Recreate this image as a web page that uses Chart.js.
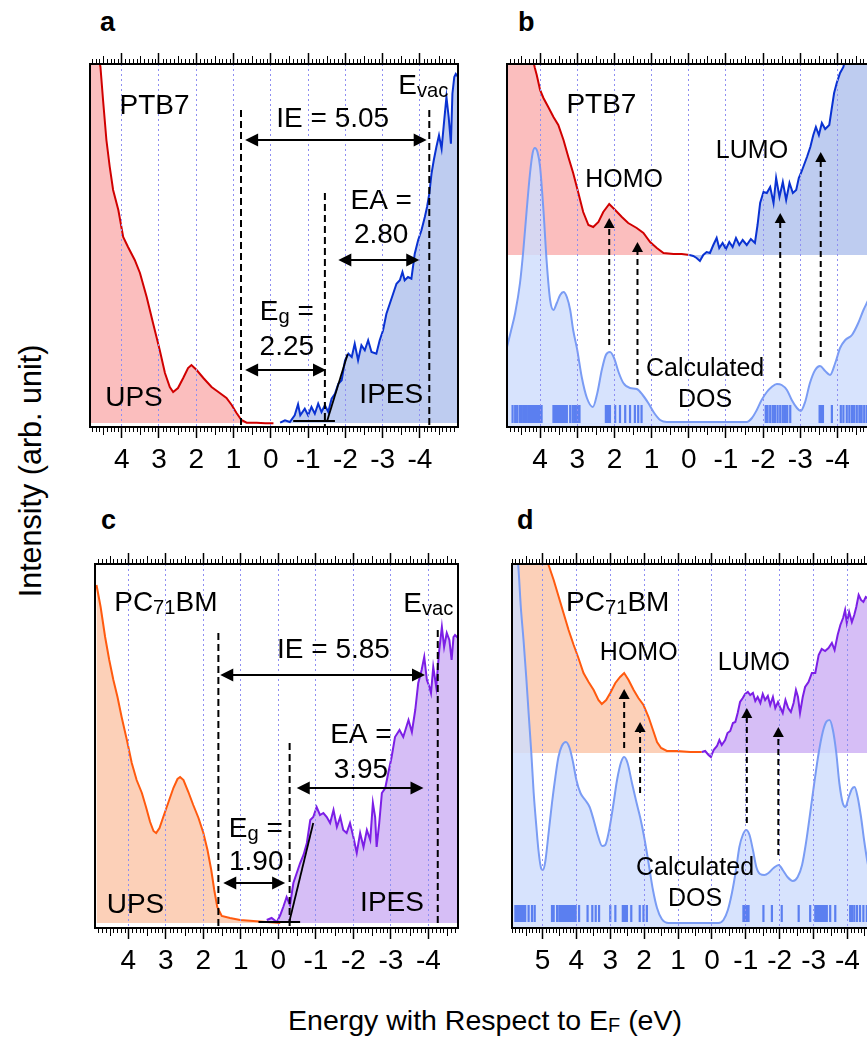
<!DOCTYPE html>
<html>
<head>
<meta charset="utf-8">
<title>PTB7 and PC71BM UPS / IPES spectra</title>
<script src="https://cdn.jsdelivr.net/npm/chart.js@4.4.1/dist/chart.umd.min.js"></script>
<style>
  html, body { margin: 0; padding: 0; background: #fff; width: 867px; height: 1044px; overflow: hidden; }
  body { position: relative; font-family: "Liberation Sans", Arial, Helvetica, sans-serif; color: #000; }
  .panel { position: absolute; }
  .letter { position: absolute; font-weight: bold; font-size: 27px; line-height: 1; }
  #ytitle { position: absolute; left: 30px; top: 471px; transform: translate(-50%, -50%) rotate(-90deg); white-space: nowrap; font-size: 30.5px; line-height: 1; }
  #xtitle { position: absolute; left: 485px; top: 1020px; transform: translate(-50%, -50%); white-space: nowrap; font-size: 28.5px; line-height: 1; }
  #xtitle sub { font-size: 0.7em; vertical-align: baseline; position: relative; top: 0.1em; }
</style>
</head>
<body>
<div class="letter" style="left:100px;top:9px">a</div>
<div class="letter" style="left:518px;top:9px">b</div>
<div class="letter" style="left:101px;top:507px">c</div>
<div class="letter" style="left:517px;top:507px">d</div>
<div id="ytitle">Intensity (arb. unit)</div>
<div id="xtitle">Energy with Respect to E<sub>F</sub> (eV)</div>

<script>
// ---------- tick labels (eV) ----------
const ticksABC = [4, 3, 2, 1, 0, -1, -2, -3, -4];
const ticksD = [5, 4, 3, 2, 1, 0, -1, -2, -3, -4];

// ---------- panel a : PTB7 UPS / IPES ----------
const aUpsE = [4.85, 4.57, 4.50, 4.41, 4.32, 4.23, 4.09, 3.96, 3.83, 3.65, 3.51, 3.33, 3.16, 2.98, 2.84, 2.71, 2.62, 2.49, 2.35, 2.22, 2.13, 1.99, 1.81, 1.59, 1.37, 1.19, 1.05, 0.92, 0.79, 0.65, 0.38, 0.15, -0.07];
const aUpsI = [420, 360, 327, 287, 260, 237, 217, 190, 180, 167, 154, 130, 104, 77, 54, 40, 35, 39, 49, 59, 62, 57, 49, 40, 34, 29, 22, 14, 7, 4.3, 4.3, 3.7, 3.7];
const aIpesE = [-0.25, -0.38, -0.51, -0.64, -0.73, -0.79, -0.91, -1.00, -1.09, -1.18, -1.27, -1.36, -1.45, -1.54, -1.63, -1.72, -1.81, -1.90, -1.99, -2.08, -2.17, -2.25, -2.34, -2.43, -2.52, -2.61, -2.70, -2.83, -2.92, -3.01, -3.10, -3.19, -3.28, -3.37, -3.46, -3.53, -3.59, -3.68, -3.77, -3.86, -3.95, -4.04, -4.13, -4.19, -4.25, -4.31, -4.37, -4.44, -4.51, -4.58, -4.65, -4.71, -4.77, -4.83, -4.87, -4.92, -4.96, -5.02];
const aIpesI = [4.3, 6.7, 5, 11.7, 22.7, 11.7, 18.3, 11.7, 20, 13.3, 23.3, 15, 21.7, 15, 28.3, 33.3, 43.3, 46.7, 66.7, 73.3, 70, 83.3, 66.7, 81.7, 76.7, 86.7, 75, 73.3, 86.7, 96.7, 113.3, 123.3, 133.3, 143.3, 146.7, 155, 146.7, 150, 148.3, 173.3, 186.7, 196.7, 210, 220, 233.3, 253.3, 266.7, 280, 291.7, 278.3, 306.7, 330, 310, 283.3, 333.3, 350, 353, 350];

// ---------- panel b : PTB7 spectra with calculated DOS ----------
const bUpsE = [4.89, 4.40, 4.14, 4.09, 4.00, 3.91, 3.78, 3.64, 3.51, 3.37, 3.24, 3.11, 2.97, 2.84, 2.70, 2.57, 2.43, 2.30, 2.14, 1.98, 1.80, 1.63, 1.40, 1.22, 1.04, 0.86, 0.68, 0.41, 0.19, -0.02];
const bUpsI = [460, 400, 359, 352, 337, 329, 320, 310, 302, 287, 270, 254, 234, 215, 202, 200, 205, 215, 223, 217, 210, 204, 199, 194, 185, 179, 174, 173, 173, 172];
const bIpesE = [-0.02, -0.12, -0.21, -0.30, -0.39, -0.48, -0.57, -0.66, -0.75, -0.82, -0.91, -1.00, -1.09, -1.18, -1.27, -1.36, -1.45, -1.56, -1.67, -1.78, -1.85, -1.92, -2.01, -2.10, -2.19, -2.28, -2.35, -2.44, -2.53, -2.62, -2.71, -2.80, -2.89, -2.96, -3.03, -3.10, -3.18, -3.27, -3.35, -3.42, -3.50, -3.58, -3.67, -3.78, -3.84, -3.91, -3.98, -4.07, -4.16, -4.30, -4.60, -5.01];
const bIpesI = [172, 171, 169, 166, 172, 175, 174, 182, 189, 179, 184, 178, 185, 180, 189, 182, 187, 182, 188, 184, 202, 224, 235, 234, 240, 224, 249, 230, 245, 227, 244, 234, 237, 249, 255, 262, 270, 280, 292, 300, 292, 304, 298, 302, 317, 334, 344, 354, 360, 385, 420, 460];
const bDosE = [4.89, 4.79, 4.67, 4.54, 4.45, 4.36, 4.27, 4.20, 4.14, 4.07, 4.00, 3.91, 3.82, 3.73, 3.64, 3.55, 3.46, 3.37, 3.28, 3.19, 3.11, 3.00, 2.88, 2.74, 2.58, 2.46, 2.34, 2.23, 2.12, 2.01, 1.89, 1.76, 1.58, 1.40, 1.24, 1.09, 0.93, 0.77, 0.59, -1.56, -1.70, -1.83, -1.96, -2.10, -2.23, -2.37, -2.50, -2.64, -2.77, -2.91, -3.01, -3.13, -3.26, -3.40, -3.53, -3.67, -3.80, -3.94, -4.07, -4.21, -4.39, -4.56, -4.70, -4.79, -5.01];
const bDosI = [80, 95, 114, 144, 177, 217, 254, 274, 279, 275, 260, 217, 164, 127, 117, 124, 132, 135, 130, 117, 97, 77, 50, 29, 20, 34, 57, 72, 75, 69, 55, 44, 39, 38, 32, 24, 14, 7, 5, 5, 9, 17, 27, 35, 40, 43, 42, 37, 27, 19, 16, 25, 44, 57, 61, 56, 52, 64, 79, 87, 92, 104, 117, 124, 140];
const bStickE = [4.74, 4.67, 4.61, 4.54, 4.49, 4.43, 4.38, 4.32, 4.27, 4.23, 4.18, 4.14, 4.09, 4.05, 4.00, 3.96, 3.64, 3.60, 3.55, 3.51, 3.46, 3.42, 3.37, 3.33, 3.28, 3.19, 3.12, 3.06, 3.00, 2.94, 2.23, 2.19, 2.15, 2.12, 1.98, 1.85, 1.71, 1.58, 1.45, 1.36, 1.27, -2.07, -2.12, -2.19, -2.26, -2.32, -2.39, -2.46, -2.53, -2.59, -2.65, -2.73, -3.52, -3.56, -3.61, -3.85, -4.09, -4.16, -4.25, -4.32, -4.39, -4.45, -4.52, -4.59, -4.65, -4.72, -4.79];

// ---------- panel c : PC71BM UPS / IPES ----------
const cUpsE = [4.85, 4.74, 4.62, 4.51, 4.40, 4.29, 4.18, 4.04, 3.91, 3.78, 3.64, 3.53, 3.42, 3.33, 3.26, 3.17, 3.07, 2.93, 2.80, 2.69, 2.62, 2.53, 2.40, 2.27, 2.13, 2.00, 1.89, 1.79, 1.71, 1.63, 1.51, 1.29, 1.02, 0.67, 0.31, -0.05];
const cUpsI = [343, 321, 291, 268, 248, 231, 211, 188, 165, 148, 135, 121, 106, 97, 95, 100, 111, 126, 140, 149, 151, 148, 136, 123, 110, 95, 78, 58, 38, 21, 12, 10, 8, 7, 6, 5];
const cIpesE = [0.31, 0.18, 0.04, -0.05, -0.13, -0.22, -0.31, -0.40, -0.49, -0.58, -0.67, -0.76, -0.85, -0.93, -1.02, -1.11, -1.20, -1.29, -1.38, -1.47, -1.56, -1.65, -1.73, -1.82, -1.91, -2.00, -2.09, -2.18, -2.27, -2.36, -2.45, -2.52, -2.58, -2.62, -2.69, -2.76, -2.85, -2.93, -3.02, -3.11, -3.23, -3.33, -3.47, -3.56, -3.65, -3.73, -3.82, -3.89, -3.96, -4.03, -4.07, -4.13, -4.21, -4.29, -4.36, -4.42, -4.49, -4.56, -4.62, -4.67, -4.71, -4.79];
const cIpesI = [8, 10, 6, 13, 21, 31, 23, 45, 55, 65, 73, 85, 108, 111, 121, 113, 115, 111, 105, 118, 101, 111, 98, 95, 105, 91, 75, 95, 81, 98, 88, 125, 111, 81, 105, 135, 140, 155, 171, 191, 198, 191, 208, 196, 218, 245, 258, 271, 248, 241, 235, 261, 241, 278, 301, 281, 295, 288, 268, 291, 293, 290];

// ---------- panel d : PC71BM spectra with calculated DOS ----------
const dUpsE = [5.90, 5.20, 4.79, 4.67, 4.52, 4.38, 4.23, 4.08, 3.94, 3.79, 3.64, 3.49, 3.35, 3.25, 3.12, 3.00, 2.85, 2.71, 2.59, 2.46, 2.31, 2.17, 2.02, 1.87, 1.74, 1.62, 1.50, 1.33, 1.03, 0.64, 0.30];
const dUpsI = [440, 400, 360, 348, 331, 315, 298, 283, 270, 255, 246, 238, 228, 224, 228, 235, 245, 251, 255, 248, 238, 230, 223, 211, 198, 186, 180, 177, 177, 176, 176];
const dIpesE = [0.30, 0.20, 0.10, 0.03, -0.05, -0.15, -0.22, -0.29, -0.39, -0.46, -0.54, -0.62, -0.69, -0.76, -0.83, -0.91, -0.98, -1.06, -1.13, -1.21, -1.28, -1.35, -1.43, -1.50, -1.57, -1.65, -1.72, -1.80, -1.87, -1.95, -2.01, -2.09, -2.17, -2.25, -2.33, -2.41, -2.48, -2.54, -2.60, -2.68, -2.75, -2.85, -2.95, -3.05, -3.15, -3.24, -3.34, -3.44, -3.54, -3.62, -3.71, -3.79, -3.87, -3.93, -3.98, -4.05, -4.13, -4.20, -4.26, -4.33, -4.40, -4.47, -4.54, -4.58, -4.70, -4.96];
const dIpesI = [176, 177, 173, 171, 178, 182, 188, 183, 188, 195, 197, 205, 206, 215, 226, 230, 234, 236, 233, 235, 227, 231, 225, 234, 228, 232, 223, 231, 220, 226, 221, 215, 228, 220, 216, 225, 238, 231, 215, 231, 241, 246, 255, 255, 273, 279, 277, 280, 285, 278, 293, 303, 310, 318, 305, 316, 306, 313, 321, 333, 328, 326, 331, 330, 335, 340];
const dDosE = [5.90, 5.80, 5.71, 5.64, 5.56, 5.48, 5.41, 5.33, 5.26, 5.18, 5.12, 5.05, 4.99, 4.92, 4.82, 4.72, 4.62, 4.53, 4.43, 4.31, 4.20, 4.10, 4.00, 3.88, 3.74, 3.61, 3.49, 3.37, 3.24, 3.15, 3.05, 2.92, 2.80, 2.68, 2.59, 2.49, 2.36, 2.23, 2.12, 2.00, 1.87, 1.74, 1.62, 1.48, 1.28, -0.19, -0.34, -0.47, -0.59, -0.71, -0.81, -0.91, -1.01, -1.11, -1.21, -1.31, -1.42, -1.55, -1.67, -1.82, -1.97, -2.09, -2.23, -2.39, -2.53, -2.66, -2.78, -2.90, -3.02, -3.15, -3.27, -3.37, -3.47, -3.57, -3.67, -3.76, -3.86, -3.94, -4.03, -4.13, -4.21, -4.30, -4.40, -4.49, -4.58, -4.75, -4.96];
const dDosI = [420, 390, 360, 321, 288, 251, 215, 175, 135, 101, 78, 61, 58, 66, 95, 125, 151, 171, 182, 186, 180, 166, 148, 135, 128, 121, 108, 93, 82, 83, 95, 121, 148, 166, 171, 165, 145, 126, 111, 91, 65, 38, 20, 9, 5, 5, 8, 18, 35, 58, 81, 93, 98, 93, 78, 61, 54, 53, 55, 60, 63, 58, 51, 47, 51, 63, 86, 115, 145, 175, 196, 206, 208, 198, 175, 145, 125, 121, 130, 139, 141, 131, 111, 88, 68, 40, 25];
const dStickE = [5.80, 5.75, 5.70, 5.65, 5.61, 5.56, 5.51, 5.41, 5.31, 5.23, 4.72, 4.67, 4.57, 4.50, 4.44, 4.38, 4.32, 4.26, 4.20, 4.14, 4.08, 4.02, 3.92, 3.67, 3.53, 3.43, 3.33, 3.00, 2.85, 2.63, 2.57, 2.51, 2.38, 2.13, 2.02, 1.92, -0.93, -0.98, -1.03, -1.08, -1.52, -1.77, -2.06, -2.56, -2.90, -3.05, -3.10, -3.15, -3.19, -3.24, -3.29, -3.34, -3.39, -3.49, -3.64, -4.08, -4.13, -4.20, -4.28, -4.37, -4.47, -4.57];

// ---------- energy levels and arrows (eV, intensity) ----------
const aLevels = [[0.80, 317], [-1.45, 234], [-4.25, 317]];           // VBM onset, CBM onset, E_vac
const aSpans = [[0.69, -4.18, 287], [-1.81, -3.98, 167], [0.69, -1.48, 57]];
const aOnset = [[-0.60, 6, -1.72, 6], [-1.51, 6, -2.06, 73]];
const bUps = [[2.14, 82, 209], [1.38, 42, 185], [-2.46, 49, 214], [-3.55, 70, 275]];
const cLevels = [[1.60, 295], [-0.30, 185], [-4.25, 298]];
const cSpans = [[1.55, -3.91, 253], [-0.49, -3.87, 140], [1.47, -0.18, 45]];
const cOnset = [[0.53, 6, -0.58, 6], [-0.29, 6, -0.93, 105]];
const dUps = [[2.59, 180, 239], [2.12, 135, 206], [-1.03, 105, 220], [-1.96, 73, 201]];

// ---------- in-plot labels: parts ('_' = subscript), eV, intensity, align, size ----------
const aTexts = [
  [['PTB7'], 3.12, 313, 'center', 28],
  [['IE = 5.05'], -1.66, 300, 'center', 28],
  [['E', '_vac'], -3.42, 333, 'left', 28],
  [['EA ='], -2.96, 218, 'center', 28],
  [['2.80'], -2.96, 184, 'center', 28],
  [['E', '_g', ' ='], -0.43, 107, 'center', 28],
  [['2.25'], -0.43, 72, 'center', 28],
  [['UPS'], 3.67, 21, 'center', 28],
  [['IPES'], -3.23, 24, 'center', 28]
];
const bTexts = [
  [['PTB7'], 2.35, 314, 'center', 28],
  [['HOMO'], 1.74, 240, 'center', 25],
  [['LUMO'], -1.70, 269, 'center', 25],
  [['Calculated'], -0.44, 51, 'center', 25],
  [['DOS'], -0.44, 20, 'center', 25]
];
const cTexts = [
  [['PC', '_71', 'BM'], 3.0, 317, 'center', 28],
  [['IE = 5.85'], -1.47, 270, 'center', 28],
  [['E', '_vac'], -3.33, 316, 'left', 28],
  [['EA ='], -2.2, 185, 'center', 28],
  [['3.95'], -2.2, 150, 'center', 28],
  [['E', '_g', ' ='], 0.60, 91, 'center', 28],
  [['1.90'], 0.59, 58, 'center', 28],
  [['UPS'], 3.81, 15, 'center', 28],
  [['IPES'], -3.03, 17, 'center', 28]
];
const dTexts = [
  [['PC', '_71', 'BM'], 2.78, 317, 'center', 28],
  [['HOMO'], 2.16, 268, 'center', 25],
  [['LUMO'], -1.24, 258, 'center', 25],
  [['Calculated'], 0.50, 53, 'center', 25],
  [['DOS'], 0.50, 22, 'center', 25]
];

// ---------- drawing ----------
const FONT = '"Liberation Sans", Arial, Helvetica, sans-serif';
const COL = {
  red: '#d00000', pink: 'rgb(251,190,190)',
  blue: '#0a32d2', lblue: 'rgb(190,204,240)',
  orange: '#ff5a0f', peach: 'rgb(252,208,184)',
  purple: '#7c1fe6', lilac: 'rgb(214,190,246)',
  dos: '#7a9cf4', dosFill: 'rgba(206,221,252,0.82)', stick: '#5b7ff0',
  grid: '#8e8ef2'
};

const pts = (E, I) => E.map((e, i) => ({ x: e, y: I[i] }));
function sticks(E, lo, hi) {
  const out = [];
  E.forEach(e => { out.push({ x: e, y: lo }, { x: e, y: hi }, { x: e, y: null }); });
  return out;
}
const fmt = v => (v < 0 ? '-' + Math.abs(v) : String(v));

function spectrum(E, I, line, fillCol, base) {
  return { data: pts(E, I), borderColor: line, borderWidth: 2, backgroundColor: fillCol,
           fill: { value: base }, pointRadius: 0, tension: 0 };
}
function dosCurve(E, I) {
  return { data: pts(E, I), borderColor: COL.dos, borderWidth: 2, backgroundColor: COL.dosFill,
           fill: { value: 0 }, pointRadius: 0, cubicInterpolationMode: 'monotone' };
}
function stickSet(E, lo, hi) {
  return { data: sticks(E, lo, hi), borderColor: COL.stick, borderWidth: 2.2, fill: false,
           pointRadius: 0, spanGaps: false, borderCapStyle: 'butt' };
}

function drawRich(ctx, parts, x, y, align, size) {
  const segs = parts.map(p => p[0] === '_'
    ? { t: p.slice(1), s: size * 0.72, dy: size * 0.12 }
    : { t: p, s: size, dy: 0 });
  let w = 0;
  segs.forEach(g => { ctx.font = g.s + 'px ' + FONT; g.w = ctx.measureText(g.t).width; w += g.w; });
  let cx = align === 'center' ? x - w / 2 : x;
  ctx.fillStyle = '#000'; ctx.textAlign = 'left'; ctx.textBaseline = 'alphabetic';
  segs.forEach(g => { ctx.font = g.s + 'px ' + FONT; ctx.fillText(g.t, cx, y + g.dy); cx += g.w; });
}

function makeDecor(spec) {
  return {
    id: 'decor',
    afterDraw(chart) {
      const ctx = chart.ctx, xs = chart.scales.x, ys = chart.scales.y, ca = chart.chartArea;
      const X = e => xs.getPixelForValue(e), Y = v => ys.getPixelForValue(v);
      ctx.save();
      // minor ticks every 0.1 eV, longer at the half
      ctx.strokeStyle = '#000'; ctx.lineWidth = 1; ctx.setLineDash([]);
      ctx.beginPath();
      for (let k = Math.ceil(xs.min * 10); k <= Math.floor(xs.max * 10); k++) {
        if (k % 10 === 0) continue;
        const len = (k % 5 === 0) ? 8 : 5;
        const x = Math.round(X(k / 10)) + 0.5;
        ctx.moveTo(x, ca.bottom); ctx.lineTo(x, ca.bottom + len);
        ctx.moveTo(x, ca.top); ctx.lineTo(x, ca.top - len);
      }
      ctx.stroke();

      ctx.save();
      ctx.beginPath(); ctx.rect(ca.left, ca.top, ca.width, ca.height); ctx.clip();
      ctx.strokeStyle = '#000'; ctx.fillStyle = '#000';
      // dashed level lines
      (spec.levels || []).forEach(([e, top]) => {
        ctx.lineWidth = 2; ctx.setLineDash([7, 4]);
        ctx.beginPath(); ctx.moveTo(X(e), Y(top)); ctx.lineTo(X(e), ca.bottom); ctx.stroke();
      });
      ctx.setLineDash([]);
      // double-headed energy arrows
      (spec.spans || []).forEach(([e1, e2, v]) => {
        const x1 = X(e1), x2 = X(e2), y = Y(v), hl = 13, hw = 6.5;
        ctx.lineWidth = 2;
        ctx.beginPath(); ctx.moveTo(x1 + hl - 1, y); ctx.lineTo(x2 - hl + 1, y); ctx.stroke();
        ctx.beginPath(); ctx.moveTo(x1, y); ctx.lineTo(x1 + hl, y - hw); ctx.lineTo(x1 + hl, y + hw); ctx.closePath(); ctx.fill();
        ctx.beginPath(); ctx.moveTo(x2, y); ctx.lineTo(x2 - hl, y - hw); ctx.lineTo(x2 - hl, y + hw); ctx.closePath(); ctx.fill();
      });
      // onset construction lines
      (spec.onsets || []).forEach(([e1, v1, e2, v2]) => {
        ctx.lineWidth = 1.8;
        ctx.beginPath(); ctx.moveTo(X(e1), Y(v1)); ctx.lineTo(X(e2), Y(v2)); ctx.stroke();
      });
      // dashed upward arrows linking DOS peaks to spectral features
      (spec.ups || []).forEach(([e, v0, v1]) => {
        const x = X(e), y0 = Y(v0), y1 = Y(v1), hl = 10, hw = 5.5;
        ctx.lineWidth = 2; ctx.setLineDash([6, 4]);
        ctx.beginPath(); ctx.moveTo(x, y0); ctx.lineTo(x, y1 + hl - 1); ctx.stroke();
        ctx.setLineDash([]);
        ctx.beginPath(); ctx.moveTo(x, y1); ctx.lineTo(x - hw, y1 + hl); ctx.lineTo(x + hw, y1 + hl); ctx.closePath(); ctx.fill();
      });
      ctx.restore();

      (spec.texts || []).forEach(([parts, e, v, align, size]) => drawRich(ctx, parts, X(e), Y(v), align, size));

      // plot frame
      ctx.setLineDash([]);
      ctx.lineWidth = 2; ctx.strokeStyle = '#000';
      ctx.strokeRect(ca.left, ca.top, ca.width, ca.height);
      ctx.restore();
    }
  };
}

function panel(cfg) {
  const padX = 25, topH = 12, botH = 62;
  const wrap = document.createElement('div');
  wrap.className = 'panel';
  wrap.style.left = (cfg.L - padX) + 'px';
  wrap.style.top = (cfg.T - topH) + 'px';
  const cv = document.createElement('canvas');
  cv.width = cfg.W + 2 * padX;
  cv.height = topH + cfg.H + botH;
  cv.style.width = cv.width + 'px';
  cv.style.height = cv.height + 'px';
  wrap.appendChild(cv);
  document.body.appendChild(wrap);
  const setTicks = s => { s.ticks = cfg.ticks.map(v => ({ value: v })); };
  return new Chart(cv.getContext('2d'), {
    type: 'line',
    data: { datasets: cfg.datasets },
    options: {
      responsive: false, animation: false, devicePixelRatio: 1,
      layout: { padding: { left: padX, right: padX, top: 0, bottom: 0 } },
      plugins: { legend: { display: false }, tooltip: { enabled: false } },
      elements: { point: { radius: 0 } },
      scales: {
        x: {
          type: 'linear', position: 'bottom', reverse: true, min: cfg.xmin, max: cfg.xmax,
          afterBuildTicks: setTicks, afterFit: s => { s.height = botH; },
          ticks: { callback: fmt, autoSkip: false, maxRotation: 0, minRotation: 0, color: '#000', padding: 5,
                   font: { family: FONT, size: 28 } },
          grid: { color: COL.grid, lineWidth: 1, tickColor: '#000', tickLength: 11, tickWidth: 1.5, z: 1 },
          border: { display: false, dash: [2, 3] }
        },
        x2: {
          type: 'linear', position: 'top', reverse: true, min: cfg.xmin, max: cfg.xmax,
          afterBuildTicks: setTicks, afterFit: s => { s.height = topH; },
          ticks: { display: false },
          grid: { drawOnChartArea: false, tickColor: '#000', tickLength: 11, tickWidth: 1.5, z: 1 },
          border: { display: false }
        },
        y: { type: 'linear', display: false, min: 0, max: cfg.H }
      }
    },
    plugins: [makeDecor(cfg.decor)]
  });
}

// a
panel({
  L: 90, T: 64, W: 368, H: 363, xmin: -5.02, xmax: 4.85, ticks: ticksABC,
  datasets: [
    spectrum(aIpesE, aIpesI, COL.blue, COL.lblue, 4),
    spectrum(aUpsE, aUpsI, COL.red, COL.pink, 4)
  ],
  decor: { levels: aLevels, spans: aSpans, onsets: aOnset, texts: aTexts }
});
// b
panel({
  L: 507, T: 64, W: 368, H: 363, xmin: -5.01, xmax: 4.89, ticks: ticksABC,
  datasets: [
    stickSet(bStickE, 4, 22),
    dosCurve(bDosE, bDosI),
    spectrum(bIpesE, bIpesI, COL.blue, COL.lblue, 172),
    spectrum(bUpsE, bUpsI, COL.red, COL.pink, 172)
  ],
  decor: { ups: bUps, texts: bTexts }
});
// c
panel({
  L: 95, T: 564, W: 363, H: 364, xmin: -4.79, xmax: 4.89, ticks: ticksABC,
  datasets: [
    spectrum(cIpesE, cIpesI, COL.purple, COL.lilac, 5),
    spectrum(cUpsE, cUpsI, COL.orange, COL.peach, 5)
  ],
  decor: { levels: cLevels, spans: cSpans, onsets: cOnset, texts: cTexts }
});
// d
panel({
  L: 512, T: 564, W: 368, H: 364, xmin: -4.96, xmax: 5.90, ticks: ticksD,
  datasets: [
    stickSet(dStickE, 6, 23),
    dosCurve(dDosE, dDosI),
    spectrum(dIpesE, dIpesI, COL.purple, COL.lilac, 175),
    spectrum(dUpsE, dUpsI, COL.orange, COL.peach, 175)
  ],
  decor: { ups: dUps, texts: dTexts }
});
</script>
</body>
</html>
